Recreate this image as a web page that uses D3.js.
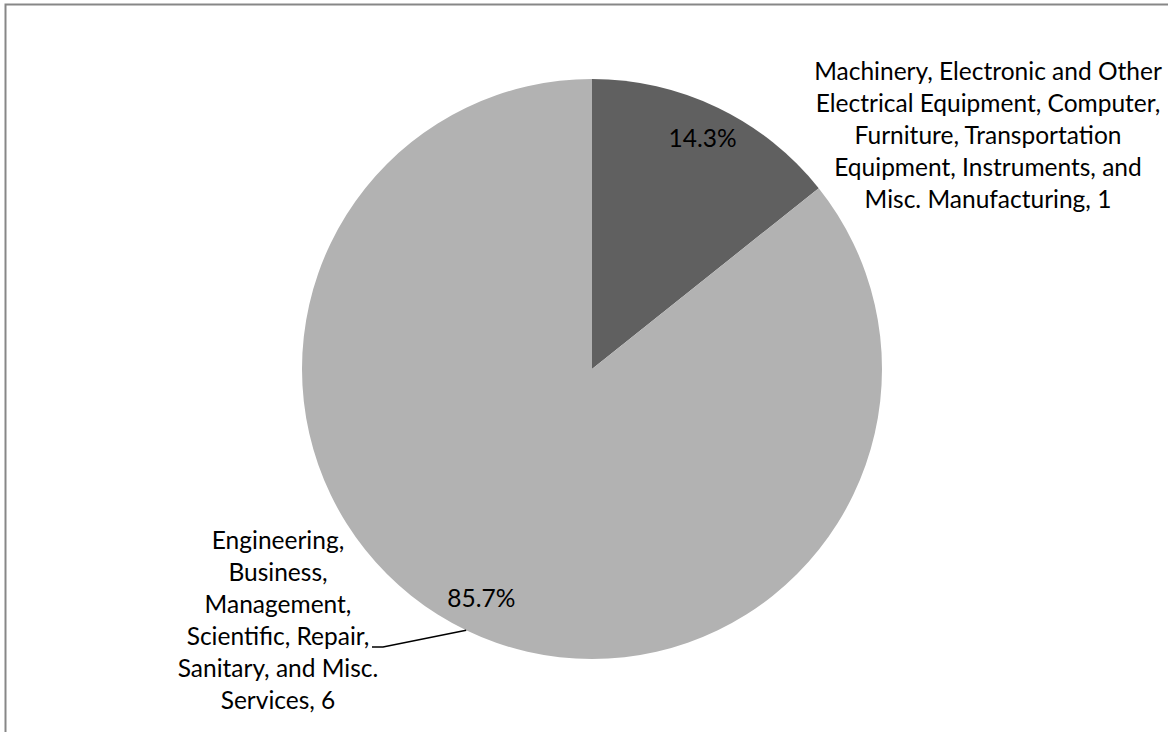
<!DOCTYPE html>
<html>
<head>
<meta charset="utf-8">
<script src="https://cdn.jsdelivr.net/npm/d3@7"></script>
<style>
  body { margin: 0; background: #fff; }
  text { font-family: Lato, "Open Sans", sans-serif; fill: #000; }
</style>
</head>
<body>
<script>
// data
var categories = [
  "Machinery, Electronic and Other\nElectrical Equipment, Computer,\nFurniture, Transportation\nEquipment, Instruments, and\nMisc. Manufacturing",
  "Engineering,\nBusiness,\nManagement,\nScientific, Repair,\nSanitary, and Misc.\nServices"
];
var values = [1, 6];
var colors = ["#606060", "#b2b2b2"];
var title = "Percentage of Companies Assisted in Each Group";

var width = 1168, height = 732;
var cx = 592, cy = 369, radius = 290;
var fontSize = 24.5, lineH = 32;

var svg = d3.select("body").append("svg")
    .attr("width", width)
    .attr("height", height);

// chart border (cropped)
svg.append("rect")
    .attr("x", 5.5)
    .attr("y", 4.5)
    .attr("width", 1300)
    .attr("height", 900)
    .attr("fill", "none")
    .attr("stroke", "#878787")
    .attr("stroke-width", 2);

// title, mostly outside the window
svg.append("text")
    .attr("x", 560)
    .attr("y", -5)
    .attr("text-anchor", "middle")
    .style("font-weight", "bold")
    .style("font-size", "26px")
    .text(title);

var pie = d3.pie().sort(null).value(d => d);
var arcs = pie(values);
var total = d3.sum(values);

var arc = d3.arc().innerRadius(0).outerRadius(radius);
var pctArc = d3.arc().innerRadius(255).outerRadius(255);
var edgeArc = d3.arc().innerRadius(radius).outerRadius(radius);

var g = svg.append("g").attr("transform", "translate(" + cx + "," + cy + ")");

g.selectAll("path.slice")
    .data(arcs)
    .join("path")
    .attr("class", "slice")
    .attr("d", arc)
    .attr("fill", (d, i) => colors[i]);

// percentage labels
g.selectAll("text.pct")
    .data(arcs)
    .join("text")
    .attr("class", "pct")
    .attr("x", d => pctArc.centroid(d)[0])
    .attr("y", d => pctArc.centroid(d)[1] + 8)
    .attr("text-anchor", "middle")
    .style("font-size", fontSize + "px")
    .text(d => (d.value / total * 100).toFixed(1) + "%");

// category labels (position of first baseline, relative to centre)
var labelPos = [[396, -289], [-314, 180]];

categories.forEach(function(c, i) {
  var lines = (c + ", " + values[i]).split("\n");
  var t = g.append("text")
      .attr("text-anchor", "middle")
      .style("font-size", fontSize + "px");
  lines.forEach(function(l, j) {
    t.append("tspan")
        .attr("x", labelPos[i][0])
        .attr("y", labelPos[i][1] + j * lineH)
        .text(l);
  });
});

// leader line for the services slice
var edge = edgeArc.centroid(arcs[1]);
g.append("polyline")
    .attr("points", [edge, [-209, 278], [-220, 278]].map(p => p.join(",")).join(" "))
    .attr("fill", "none")
    .attr("stroke", "#000")
    .attr("stroke-width", 1.5);
</script>
</body>
</html>
